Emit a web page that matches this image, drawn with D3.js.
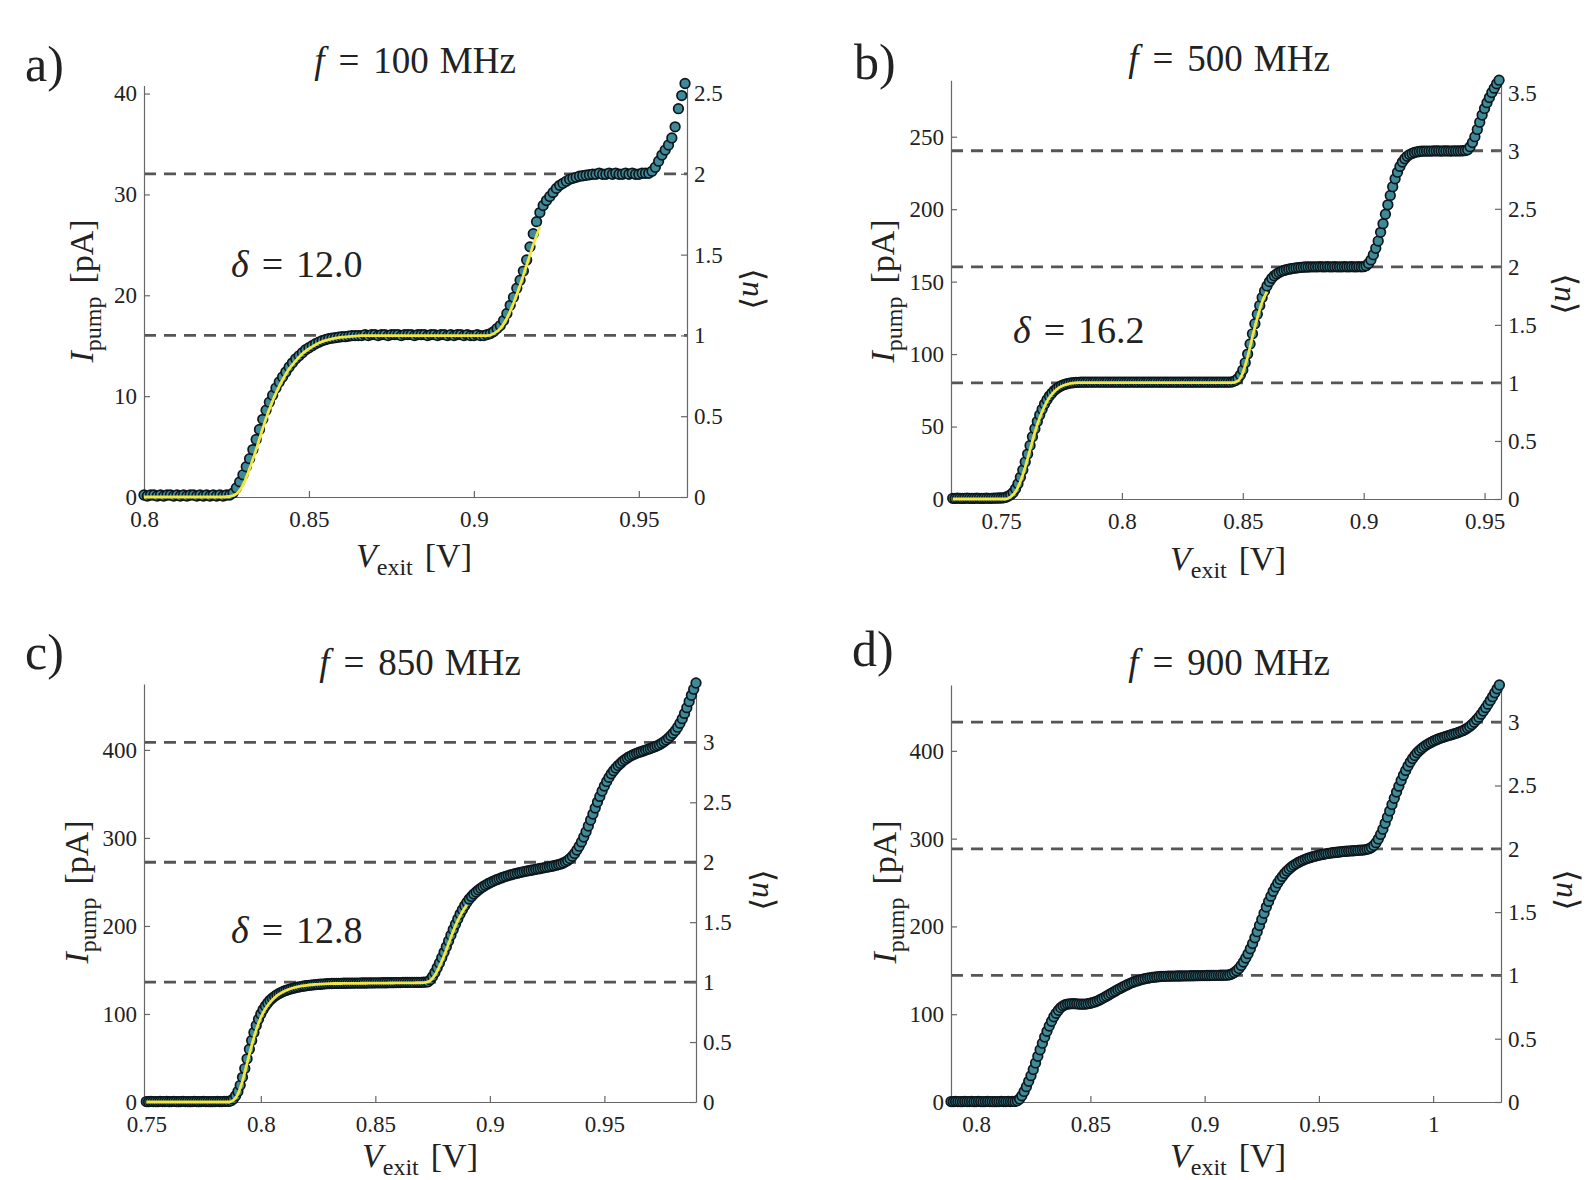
<!DOCTYPE html>
<html><head><meta charset="utf-8">
<script src="https://cdn.jsdelivr.net/npm/d3@7"></script>
<style>
body{margin:0;background:#fff}
svg text{font-family:"Liberation Serif","DejaVu Serif",serif;fill:#222}
</style>
</head><body><svg id="c" width="1589" height="1180"></svg>
<script>
// ---------------- DATA ----------------
const panelLetters = ["a)", "b)", "c)", "d)"];
const freqLabels = ["100", "500", "850", "900"];
const deltaLabels = ["12.0", "16.2", "12.8", null];
// current of one electron per cycle, e*f, in pA
const stepPA = [16.02, 80.1, 136.2, 144.2];
// gate-voltage sweeps (start, spacing) in V
const vStart = [0.800, 0.730, 0.750, 0.789];
const vStep = 0.001;
const fitStart = [0.800, 0.730, 0.750];
const fitStep = 0.002;

const xDomains = [[0.8, 0.9646], [0.7293, 0.9568], [0.749, 0.990], [0.789, 1.0297]];
const yMax = [40.8, 289, 475, 475];
const xTicks = [[0.8, 0.85, 0.9, 0.95], [0.75, 0.8, 0.85, 0.9, 0.95], [0.75, 0.8, 0.85, 0.9, 0.95], [0.8, 0.85, 0.9, 0.95, 1]];
const yTicks = [[0, 10, 20, 30, 40], [0, 50, 100, 150, 200, 250], [0, 100, 200, 300, 400], [0, 100, 200, 300, 400]];
const nTicks = [[0, 0.5, 1, 1.5, 2, 2.5], [0, 0.5, 1, 1.5, 2, 2.5, 3, 3.5], [0, 0.5, 1, 1.5, 2, 2.5, 3], [0, 0.5, 1, 1.5, 2, 2.5, 3]];
const plateauLines = [[1, 2], [1, 2, 3], [1, 2, 3], [1, 2, 3]];

// measured pump current I_pump [pA]
const iA = [
0.2,0.1,0.2,0.2,0.1,0.2,0.1,0.2,0.2,0.1,
0.2,0.1,0.2,0.1,0.2,0.2,0.1,0.2,0.1,0.2,
0.1,0.2,0.1,0.2,0.1,0.2,0.2,0.4,0.9,1.5,
2.2,3.0,3.8,4.7,5.7,6.7,7.7,8.6,9.4,10.1,
10.8,11.4,11.9,12.4,12.9,13.3,13.7,14.0,14.3,14.6,
14.8,15.0,15.2,15.35,15.5,15.6,15.7,15.75,15.8,15.85,
15.9,15.9,15.95,16.0,16.0,16.0,16.0,16.1,16.0,16.1,
16.1,16.0,16.1,16.1,16.0,16.1,16.1,16.1,16.0,16.1,
16.1,16.1,16.0,16.1,16.1,16.1,16.0,16.1,16.1,16.0,
16.1,16.1,16.0,16.1,16.0,16.1,16.1,16.0,16.1,16.0,
16.0,16.1,16.0,16.0,16.1,16.2,16.4,16.7,17.0,17.5,
18.2,19.0,19.8,20.7,21.5,22.4,23.5,24.8,26.1,27.3,
28.2,28.9,29.4,29.8,30.2,30.6,30.9,31.1,31.3,31.5,
31.6,31.7,31.8,31.85,31.9,31.95,32.0,32.0,32.1,32.0,
32.0,32.1,32.0,32.1,32.0,32.0,32.1,32.0,32.1,32.0,
32.0,32.1,32.1,32.1,32.3,32.7,33.3,33.9,34.4,34.9,
35.6,36.7,38.5,39.8,41.0
];
const iB = [
0.5,0.4,0.6,0.5,0.4,0.5,0.6,0.5,0.4,0.5,
0.6,0.5,0.4,0.5,0.6,0.5,0.5,0.6,0.6,0.7,
0.7,0.8,1.2,2.0,3.0,4.5,7,10.5,15,20,
25.5,31,37,43,48.5,53.5,58,62,65.5,68.5,
71,73,74.8,76.2,77.3,78.2,78.9,79.4,79.8,80.1,
80.3,80.5,80.5,80.6,80.6,80.6,80.7,80.6,80.6,80.7,
80.6,80.7,80.6,80.6,80.7,80.6,80.6,80.7,80.6,80.6,
80.7,80.6,80.6,80.7,80.6,80.7,80.6,80.6,80.7,80.6,
80.6,80.7,80.6,80.6,80.7,80.6,80.6,80.7,80.6,80.6,
80.6,80.7,80.6,80.6,80.7,80.6,80.6,80.7,80.6,80.6,
80.6,80.7,80.6,80.6,80.7,80.6,80.6,80.7,80.6,80.6,
80.6,80.7,80.6,80.6,80.7,80.6,81.0,81.8,83.2,85.5,
89,94,100,107,114,121,127.5,133.5,139,143.5,
147,150,152.3,154,155.3,156.3,157.1,157.7,158.2,158.6,
158.9,159.2,159.4,159.6,159.8,160,160.1,160.1,160.2,160.2,
160.2,160.2,160.3,160.2,160.2,160.3,160.2,160.2,160.3,160.2,
160.2,160.2,160.3,160.2,160.2,160.3,160.2,160.2,160.3,160.2,
160.3,161,162.5,165,168.5,173,178,184,190,196.5,
203,209.5,215.5,221,225.5,229.5,232.5,234.8,236.5,237.7,
238.5,239.1,239.5,239.8,240,240,240.1,240.1,240.1,240.2,
240.2,240.2,240.1,240.2,240.2,240.2,240.1,240.2,240.2,240.2,
240.2,240.3,240.5,241,243,246,250,255,260,265,
269.5,273.5,277,280.5,283.5,286.5,289
];
const iC = [
0.5,0.4,0.6,0.5,0.5,0.4,0.6,0.5,0.5,0.6,
0.4,0.5,0.6,0.5,0.4,0.5,0.6,0.5,0.5,0.4,
0.5,0.6,0.5,0.4,0.5,0.6,0.5,0.5,0.4,0.5,
0.5,0.6,0.5,0.5,0.6,0.6,0.7,1.5,3.5,7,
12,19,28,38,49,60,70,79,87,94,
100,105,109,112.5,115.5,118,120,121.8,123.3,124.6,
125.8,126.8,127.7,128.5,129.2,129.8,130.4,130.9,131.4,131.8,
132.2,132.5,132.8,133.1,133.4,133.6,133.8,134.0,134.2,134.4,
134.5,134.6,134.7,134.7,134.8,134.8,134.9,134.9,135,135,
135,135.1,135.1,135.1,135.2,135.2,135.2,135.3,135.3,135.3,
135.4,135.4,135.4,135.5,135.5,135.5,135.6,135.6,135.6,135.7,
135.7,135.7,135.8,135.8,135.8,135.9,135.9,135.9,136,136,
136,136.1,136.2,136.5,139,142.5,147,152.5,158,164,
170,176.5,183,189.5,196,202,208,213.5,218.5,223,
227,230.5,233.5,236.2,238.6,240.8,242.8,244.6,246.2,247.7,
249,250.3,251.5,252.6,253.6,254.6,255.5,256.4,257.2,258,
258.7,259.4,260,260.6,261.2,261.8,262.3,262.8,263.3,263.8,
264.3,264.8,265.3,265.8,266.3,266.8,267.3,267.8,268.4,269,
269.7,270.5,271.5,272.8,274.5,276.6,279.2,282.4,286.2,290.6,
295.5,301,307,313.5,320.3,327.2,334,340.7,347.2,353.3,
359,364.2,368.8,372.8,376.3,379.4,382.2,384.7,387,389,
390.8,392.4,393.8,395,396.1,397.1,398,398.9,399.8,400.7,
401.6,402.6,403.6,404.7,406,407.5,409.2,411.2,413.5,416,
418.8,422,425.8,430.3,435.5,441.5,448,455,462,469,
476
];
const iD = [
0.5,0.4,0.6,0.5,0.5,0.4,0.6,0.5,0.5,0.6,
0.4,0.5,0.6,0.5,0.4,0.5,0.6,0.5,0.5,0.4,
0.5,0.5,0.6,0.5,0.5,0.6,0.5,0.6,0.7,1.5,
3.5,7,12,17.5,23.5,30,37,44.5,52,59.5,
67,74,80.5,86.5,92,97,101,104.5,107.5,109.5,
110.8,111.5,111.8,112,112,111.8,111.6,111.4,111.4,111.6,
112,112.5,113.2,114,115,116.2,117.5,119,120.5,122,
123.5,125,126.5,128,129.4,130.8,132.1,133.4,134.6,135.7,
136.7,137.6,138.4,139.2,139.9,140.5,141,141.5,141.9,142.2,
142.5,142.7,143,143.1,143.2,143.3,143.3,143.4,143.4,143.5,
143.5,143.6,143.6,143.7,143.7,143.8,143.8,143.9,143.9,144,
144,144,144.1,144.1,144.2,144.2,144.3,144.3,144.4,144.4,
144.5,144.5,145,146,147.5,149.5,152,155.5,159.5,164,
169,174.5,180.5,187,194,201,208,215,222,228.5,
234.5,240,245,249.5,253.5,257,260.2,263,265.5,267.7,
269.6,271.3,272.8,274.1,275.3,276.4,277.4,278.3,279.1,279.8,
280.5,281.1,281.7,282.2,282.7,283.1,283.5,283.9,284.2,284.5,
284.8,285.1,285.4,285.6,285.8,286,286.2,286.4,286.6,286.8,
287,287.3,287.8,288.6,290,292.2,295.4,299.6,304.8,310.8,
317.4,324.4,331.6,338.8,346,353,359.8,366.2,372.2,377.7,
382.7,387.2,391.2,394.7,397.8,400.5,402.8,404.8,406.6,408.2,
409.6,410.9,412.1,413.2,414.2,415.1,416,416.8,417.6,418.4,
419.2,420,420.9,421.9,423,424.3,425.9,427.8,430,432.5,
435.3,438.4,441.8,445.4,449.2,453.2,457.4,461.7,466.1,470.6,
475
];
// fitted model curves (yellow), sampled every 2 mV
const fitA = [
0,0,0,0,0,0,0,0,0,0,0,0,0,0.05,
0.3,1.2,2.8,4.7,6.8,8.7,10.3,11.6,12.7,13.5,14.2,14.7,15.1,15.4,15.6,15.75,15.85,15.9,15.95,
16.0,16.0,16.0,16.0,16.0,16.0,16.0,16.0,16.0,16.0,16.0,16.0,16.0,16.0,16.0,16.0,16.0,16.0,16.0,16.0,
16.2,16.7,17.7,19.2,21.0,23.0,25.0,26.8
];
const fitB = [
0,0,0,0,0,0,0,0,0,0,0,0,
1.5,5,12,22,34,46,56,64,70,74,76.8,78.5,79.5,80,
80.3,80.3,80.3,80.3,80.3,80.3,80.3,80.3,80.3,80.3,80.3,80.3,80.3,80.3,80.3,80.3,80.3,
80.3,80.3,80.3,80.3,80.3,80.3,80.3,80.3,80.3,80.3,80.3,80.3,80.3,80.3,80.3,80.3,
81.5,87,98,112,125,136,143
];
const fitC = [
0,0,0,0,0,0,0,0,0,0,0,0,0,0,0,0,0,0,0,
2,9,24,44,64,82,96,106,113,118.5,122.5,125.5,127.8,129.5,130.8,131.8,132.6,
133.2,133.6,134,134.3,
134.5,134.6,134.6,134.7,134.7,134.8,134.8,134.9,134.9,135,135,135.1,135.1,135.2,135.2,135.3,135.3,135.4,135.4,135.5,135.5,
135.8,138,144,154,166,180,194,206,216,224
];
const currents = [iA, iB, iC, iD];
const fits = [fitA, fitB, fitC, null];

// ---------------- LAYOUT ----------------
const layout = [
  {L:144, R:687, B:497, T:85.5, title:[415,73], letter:[25,81], delta:[231,277], ylab:[93,291], xlab:[414,567], nlab:[743,289]},
  {L:951, R:1501, B:499, T:80.2, title:[1229,71], letter:[854,79], delta:[1013,343], ylab:[894,291], xlab:[1228,570], nlab:[1555,294]},
  {L:144, R:696, B:1102, T:683.9, title:[420,675], letter:[25,669], delta:[231,943], ylab:[88,892], xlab:[420,1167], nlab:[753,890]},
  {L:951, R:1501, B:1102, T:685, title:[1229,675], letter:[852,666], delta:null, ylab:[896,892], xlab:[1228,1167], nlab:[1557,890]}
];

const svg = d3.select('#c');
svg.append('rect').attr('width',1589).attr('height',1180).attr('fill','#fff');
const fmt = d => String(+d.toFixed(3));
const axisColor = '#666';

layout.forEach((lo, p) => {
  const g = svg.append('g');
  const x = d3.scaleLinear().domain(xDomains[p]).range([lo.L, lo.R]);
  const y = d3.scaleLinear().domain([0, yMax[p]]).range([lo.B, lo.T]);
  const yn = d3.scaleLinear().domain([0, yMax[p] / stepPA[p]]).range([lo.B, lo.T]);

  // dashed plateau lines at I = n e f
  g.selectAll('line.plateau').data(plateauLines[p]).join('line')
    .attr('x1', lo.L).attr('x2', lo.R)
    .attr('y1', n => y(n * stepPA[p])).attr('y2', n => y(n * stepPA[p]))
    .attr('stroke', '#555').attr('stroke-width', 2.8).attr('stroke-dasharray', '12,8');

  // axes
  const styleAxis = sel => {
    sel.selectAll('.domain').attr('stroke', axisColor).attr('stroke-width', 1.2);
    sel.selectAll('.tick line').attr('stroke', axisColor).attr('stroke-width', 1.2);
    sel.selectAll('.tick text').attr('font-size', 23).attr('fill', '#333')
       .attr('font-family', '"Liberation Serif",serif');
  };
  g.append('g').attr('transform', `translate(0,${lo.B})`)
    .call(d3.axisBottom(x).tickValues(xTicks[p]).tickFormat(fmt).tickSize(-6).tickSizeOuter(0).tickPadding(14))
    .call(styleAxis);
  g.append('g').attr('transform', `translate(${lo.L},0)`)
    .call(d3.axisLeft(y).tickValues(yTicks[p]).tickFormat(fmt).tickSize(-6).tickSizeOuter(0).tickPadding(7))
    .call(styleAxis);
  g.append('g').attr('transform', `translate(${lo.R},0)`)
    .call(d3.axisRight(yn).tickValues(nTicks[p]).tickFormat(fmt).tickSize(-6).tickSizeOuter(0).tickPadding(7))
    .call(styleAxis);

  // data points
  const pts = currents[p].map((c, i) => ({v: vStart[p] + i * vStep, c}));
  g.append('g').selectAll('circle').data(pts).join('circle')
    .attr('cx', d => x(d.v)).attr('cy', d => y(d.c)).attr('r', 4.8)
    .attr('fill', '#3f8a98').attr('stroke', '#0c161b').attr('stroke-width', 1.7);

  // fit curve
  if (fits[p]) {
    const fp = fits[p].map((c, i) => ({v: fitStart[p] + i * fitStep, c}));
    g.append('path').datum(fp)
      .attr('d', d3.line().x(d => x(d.v)).y(d => y(d.c)).curve(d3.curveMonotoneX))
      .attr('fill', 'none').attr('stroke', '#f4e640').attr('stroke-width', 2.8);
  }

  // title
  const t = g.append('text').attr('x', lo.title[0]).attr('y', lo.title[1])
    .attr('text-anchor', 'middle').attr('font-size', 37);
  t.append('tspan').attr('font-style', 'italic').text('f');
  t.append('tspan').attr('dx', 14).text('=');
  t.append('tspan').attr('dx', 14).text(freqLabels[p]);
  t.append('tspan').attr('dx', 11).text('MHz');

  // panel letter
  g.append('text').attr('x', lo.letter[0]).attr('y', lo.letter[1])
    .attr('font-size', 50).text(panelLetters[p]);

  // delta annotation
  if (deltaLabels[p]) {
    const dt = g.append('text').attr('x', lo.delta[0]).attr('y', lo.delta[1]).attr('font-size', 38);
    dt.append('tspan').attr('font-style', 'italic').text('δ');
    dt.append('tspan').attr('dx', 13).text('=');
    dt.append('tspan').attr('dx', 13).text(deltaLabels[p]);
  }

  // y label
  const yl = g.append('text').attr('text-anchor', 'middle').attr('font-size', 34)
    .attr('transform', `translate(${lo.ylab[0]},${lo.ylab[1]}) rotate(-90)`);
  yl.append('tspan').attr('font-style', 'italic').text('I');
  yl.append('tspan').attr('font-size', 24).attr('dy', 8).text('pump');
  yl.append('tspan').attr('dx', 13).attr('dy', -8).text('[pA]');

  // x label
  const xl = g.append('text').attr('x', lo.xlab[0]).attr('y', lo.xlab[1])
    .attr('text-anchor', 'middle').attr('font-size', 34);
  xl.append('tspan').attr('font-style', 'italic').text('V');
  xl.append('tspan').attr('font-size', 24).attr('dy', 8).text('exit');
  xl.append('tspan').attr('dx', 12).attr('dy', -8).text('[V]');

  // right label <n>
  const nl = g.append('text').attr('text-anchor', 'middle').attr('font-size', 32)
    .attr('transform', `translate(${lo.nlab[0]},${lo.nlab[1]}) rotate(90)`);
  nl.append('tspan').attr('font-family', '"DejaVu Serif",serif').text('⟨');
  nl.append('tspan').attr('font-style', 'italic').text('n');
  nl.append('tspan').attr('font-family', '"DejaVu Serif",serif').text('⟩');
});
</script>
</body></html>
